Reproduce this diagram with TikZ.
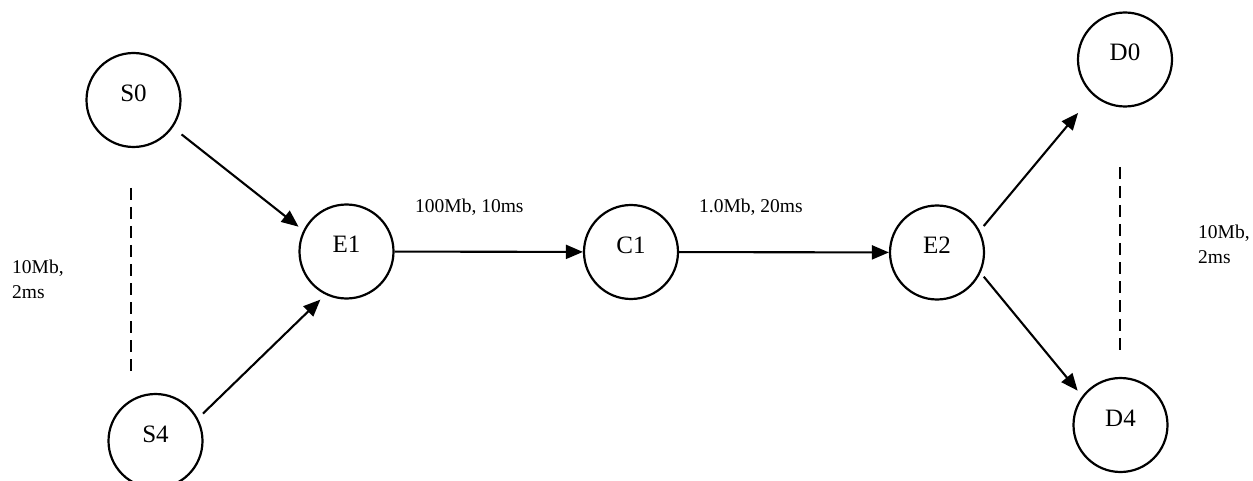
\documentclass[tikz,border=0pt]{standalone}
\usepackage{fontspec}
\setmainfont{Liberation Serif}
\usetikzlibrary{arrows.meta}
\begin{document}
\begin{tikzpicture}[x=1pt,y=-1pt,
  netnode/.style={circle,draw,line width=2.2pt,minimum size=94pt,inner sep=0pt,
    font=\fontsize{25}{30}\selectfont,text depth=14pt},
  link/.style={line width=2.1pt,-{Triangle[length=17pt,width=14pt]}},
  gap/.style={line width=2.1pt,dash pattern=on 12pt off 7pt},
  lbl/.style={font=\fontsize{19.5}{25}\selectfont,inner sep=0pt}]
\useasboundingbox (0,0) rectangle (1253,481);

% hosts and routers
\node[netnode] (S0) at (133.5,100) {S0};
\node[netnode] (S4) at (155.5,441) {S4};
\node[netnode] (E1) at (346.5,251.5) {E1};
\node[netnode] (C1) at (631,252) {C1};
\node[netnode] (E2) at (937,252.5) {E2};
\node[netnode] (D0) at (1125,59.5) {D0};
\node[netnode] (D4) at (1120.5,425) {D4};

% links
\draw[link,shorten <=11pt,shorten >=6pt] (S0.-35) -- (E1.154);
\draw[link,shorten <=7pt,shorten >=7pt] (S4.28) -- (E1.-116);
\draw[link] (E1) -- (C1);
\draw[link] (C1) -- (E2);
\draw[link,shorten <=6pt,shorten >=23pt] (E2.27) -- (D0.-132);
\draw[link,shorten <=5pt,shorten >=7pt] (E2.-25) -- (D4.143);

% "more hosts" markers
\coordinate (sTop) at (131,188);
\coordinate (sBot) at (131,376);
\draw[gap] (sTop) -- (sBot);
\coordinate (dTop) at (1120,167);
\coordinate (dBot) at (1120,353);
\draw[gap] (dTop) -- (dBot);

% link parameters
\node[lbl,anchor=base west] (bw1) at (415,213) {100Mb, 10ms};
\node[lbl,anchor=base west] (bw2) at (699,213) {1.0Mb, 20ms};
\node[lbl,anchor=north west,align=left] (acc) at (12,260) {10Mb,\\2ms};
\node[lbl,anchor=north west,align=left] (dst) at (1198,225) {10Mb,\\2ms};
\end{tikzpicture}
\end{document}
